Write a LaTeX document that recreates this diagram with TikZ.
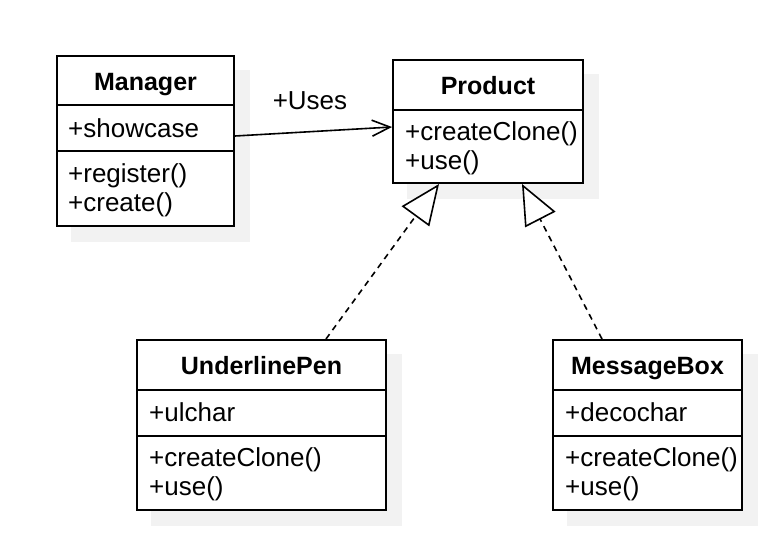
\documentclass[tikz,border=0pt]{standalone}
\usepackage{fontspec}
\setmainfont{Liberation Sans}
\usetikzlibrary{arrows.meta,calc,backgrounds}
\definecolor{shadowgray}{RGB}{242,242,242}
\begin{document}
\begin{tikzpicture}[x=1pt,y=-1pt,
  box/.style={draw, line width=2pt, fill=white, inner sep=0pt},
  txt/.style={anchor=base west, inner sep=0pt, font=\fontsize{26}{30}\selectfont},
  ttl/.style={anchor=base, inner sep=0pt, font=\fontsize{25}{30}\selectfont\bfseries},
  divider/.style={line width=2pt},
  shadow/.style={fill=shadowgray},
  uses/.style={line width=1.6pt, -{Straight Barb[length=18pt,width=16pt,line width=1.6pt]}},
  realize/.style={line width=1.6pt, dash pattern=on 6pt off 5pt, -{Triangle[open, length=40pt, width=34pt, fill=white, line width=1.6pt]}}
]
\useasboundingbox (0,0) rectangle (784,554);

% Manager
\node[box, minimum width=177pt, minimum height=170pt] (mgr) at (145.5,141) {};
\draw[divider] ($(mgr.north west)+(0,50)$) -- ($(mgr.north east)+(0,50)$);
\draw[divider] ($(mgr.north west)+(0,96)$) -- ($(mgr.north east)+(0,96)$);
\node[ttl] (mgrt) at (145.5,90) {Manager};
\node[txt] (mgra) at (68,137) {+showcase};
\node[txt] (mgrm1) at (68,182) {+register()};
\node[txt] (mgrm2) at (68,211) {+create()};

% Product
\node[box, minimum width=190pt, minimum height=123pt] (prod) at (488,121.5) {};
\draw[divider] ($(prod.north west)+(0,51)$) -- ($(prod.north east)+(0,51)$);
\node[ttl] (prodt) at (488,94) {Product};
\node[txt] (prodm1) at (405,140) {+createClone()};
\node[txt] (prodm2) at (405,169) {+use()};

% UnderlinePen
\node[box, minimum width=249pt, minimum height=170pt] (ulp) at (261.5,425) {};
\draw[divider] ($(ulp.north west)+(0,51)$) -- ($(ulp.north east)+(0,51)$);
\draw[divider] ($(ulp.north west)+(0,97)$) -- ($(ulp.north east)+(0,97)$);
\node[ttl] (ulpt) at (261.5,374) {UnderlinePen};
\node[txt] (ulpa) at (149,421) {+ulchar};
\node[txt] (ulpm1) at (149,466) {+createClone()};
\node[txt] (ulpm2) at (149,495) {+use()};

% MessageBox
\node[box, minimum width=189pt, minimum height=170pt] (msg) at (647.5,425) {};
\draw[divider] ($(msg.north west)+(0,51)$) -- ($(msg.north east)+(0,51)$);
\draw[divider] ($(msg.north west)+(0,97)$) -- ($(msg.north east)+(0,97)$);
\node[ttl] (msgt) at (647.5,374) {MessageBox};
\node[txt] (msga) at (565,421) {+decochar};
\node[txt] (msgm1) at (565,466) {+createClone()};
\node[txt] (msgm2) at (565,495) {+use()};

% shadows
\begin{scope}[on background layer]
  \foreach \n in {mgr,prod,ulp,msg}
    \fill[shadow] ($(\n.north west)+(15,15)$) rectangle ($(\n.south east)+(15,15)$);
\end{scope}

% connectors
\draw[uses] ([yshift=5pt]mgr.east) -- ([yshift=-5.5pt]prod.west);
\node[anchor=base, inner sep=0pt, font=\fontsize{26}{30}\selectfont] (useslbl) at (310,109) {+Uses};
\draw[realize] ([xshift=64.5pt]ulp.north) -- ([xshift=-49pt]prod.south);
\draw[realize] ([xshift=-45.5pt]msg.north) -- ([xshift=34pt]prod.south);
\end{tikzpicture}
\end{document}
